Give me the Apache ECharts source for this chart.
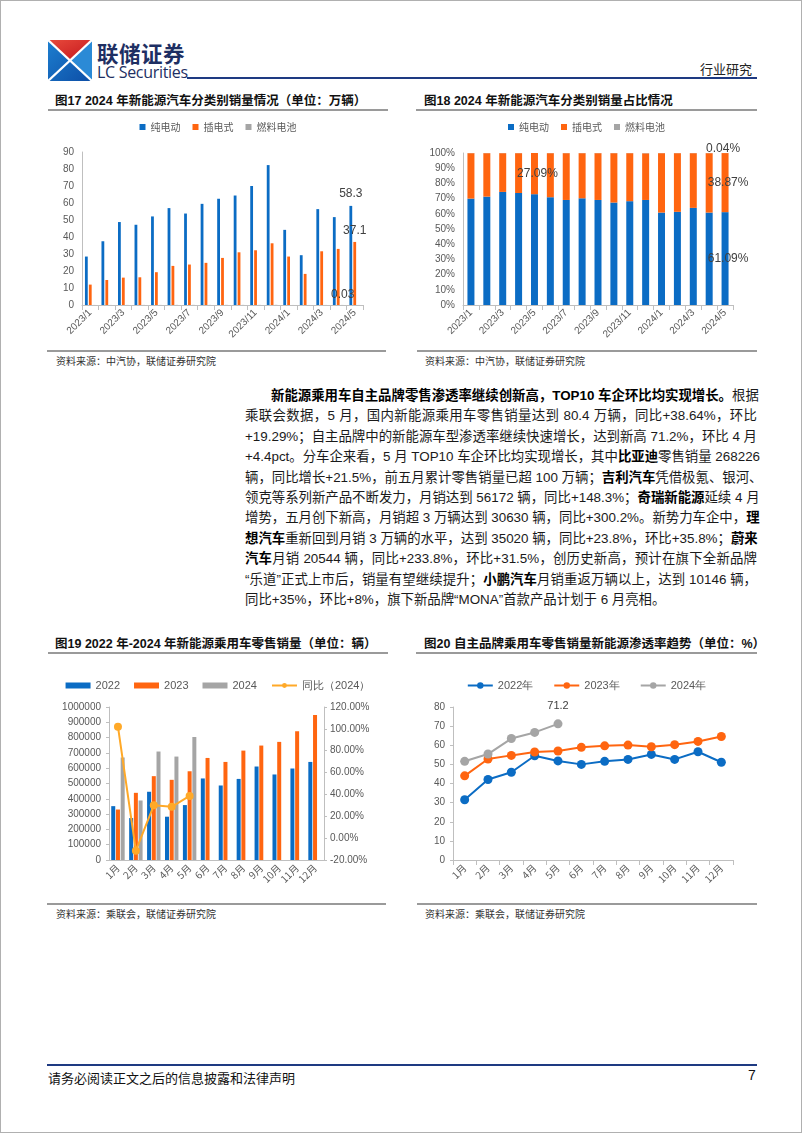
<!DOCTYPE html>
<html><head><meta charset="utf-8">
<script src="https://cdn.jsdelivr.net/npm/echarts@6/dist/echarts.min.js"></script>
<style>
html,body{margin:0;padding:0}
body{width:802px;height:1133px;position:relative;background:#fff;font-family:"Liberation Sans",Arial,"Noto Sans CJK SC",sans-serif;overflow:hidden;color:#222}
.abs{position:absolute}
.frame{position:absolute;left:0;top:0;width:800px;height:1131px;border:1px solid #b0b0b0}
.title{position:absolute;font-size:12.5px;font-weight:bold;color:#111;white-space:nowrap}
.rule{position:absolute;height:2px;background:#9a9a9a}
.src{position:absolute;font-size:10px;color:#333;white-space:nowrap}
.para{position:absolute;left:245px;width:512px;font-size:13.4px;color:#1a1a1a}
.para div{height:20.4px;line-height:20.4px;white-space:nowrap;text-align:justify;text-align-last:justify}
.para b{font-weight:bold;color:#000}
.chart{position:absolute}
</style></head>
<body>
<div class="frame"></div>
<svg class="abs" style="left:48px;top:40px" width="44" height="41" viewBox="0 0 44 41">
 <defs>
  <linearGradient id="gb" x1="0" y1="0" x2="1" y2="1"><stop offset="0" stop-color="#1d7fd0"/><stop offset="1" stop-color="#0d4ea6"/></linearGradient>
  <linearGradient id="gr" x1="0" y1="0" x2="1" y2="1"><stop offset="0" stop-color="#e84a3c"/><stop offset="1" stop-color="#c4161c"/></linearGradient>
 </defs>
 <rect x="0" y="0" width="44" height="41" fill="url(#gb)"/>
 <polygon points="0,0 44,0 22,20.5" fill="url(#gr)"/>
 <polygon points="44,0 44,41 22,20.5" fill="#2b8ad6"/>
 <line x1="0" y1="0" x2="44" y2="41" stroke="#fff" stroke-width="2.2"/>
 <line x1="44" y1="0" x2="0" y2="41" stroke="#fff" stroke-width="2.2"/>
</svg>
<div class="abs" style="left:97px;top:40px;font-size:21.5px;font-weight:bold;color:#1e2f63;font-family:'Noto Sans CJK SC';letter-spacing:0.5px;line-height:25px">联储证券</div>
<div class="abs" style="left:97px;top:63px;font-size:16px;color:#1e2f63;font-family:'Open Sans','Liberation Sans';line-height:18px;letter-spacing:-0.3px">LC Securities</div>
<div class="abs" style="left:187px;top:77px;width:570px;height:2px;background:#1e3a82"></div>
<div class="abs" style="left:700px;top:59px;font-size:13px;color:#222;font-family:'Noto Sans CJK SC'">行业研究</div>

<div class="title" style="left:55px;top:90px">图17 2024 年新能源汽车分类别销量情况（单位：万辆）</div>
<div class="rule" style="left:48px;top:109px;width:340px"></div>
<div class="title" style="left:424px;top:90px">图18 2024 年新能源汽车分类别销量占比情况</div>
<div class="rule" style="left:416px;top:109px;width:341px"></div>

<div id="c1" class="chart" style="left:48px;top:112px;width:340px;height:236px"></div>
<div id="c2" class="chart" style="left:416px;top:112px;width:341px;height:236px"></div>

<div class="rule" style="left:47px;top:350px;width:339px;height:1.5px"></div>
<div class="src" style="left:56px;top:353px">资料来源：中汽协，联储证券研究院</div>
<div class="rule" style="left:417px;top:350px;width:340px;height:1.5px"></div>
<div class="src" style="left:425px;top:353px">资料来源：中汽协，联储证券研究院</div>

<div class="para" style="top:386px">
<div style="padding-left:26px"><b>新能源乘用车自主品牌零售渗透率继续创新高，TOP10 车企环比均实现增长。</b>根据</div>
<div>乘联会数据，5 月，国内新能源乘用车零售销量达到 80.4 万辆，同比+38.64%，环比</div>
<div>+19.29%；自主品牌中的新能源车型渗透率继续快速增长，达到新高 71.2%，环比 4 月</div>
<div>+4.4pct。分车企来看，5 月 TOP10 车企环比均实现增长，其中<b>比亚迪</b>零售销量 268226</div>
<div>辆，同比增长+21.5%，前五月累计零售销量已超 100 万辆；<b>吉利汽车</b>凭借极氪、银河、</div>
<div>领克等系列新产品不断发力，月销达到 56172 辆，同比+148.3%；<b>奇瑞新能源</b>延续 4 月</div>
<div>增势，五月创下新高，月销超 3 万辆达到 30630 辆，同比+300.2%。新势力车企中，<b>理</b></div>
<div><b>想汽车</b>重新回到月销 3 万辆的水平，达到 35020 辆，同比+23.8%，环比+35.8%；<b>蔚来</b></div>
<div><b>汽车</b>月销 20544 辆，同比+233.8%，环比+31.5%，创历史新高，预计在旗下全新品牌</div>
<div>“乐道”正式上市后，销量有望继续提升；<b>小鹏汽车</b>月销重返万辆以上，达到 10146 辆，</div>
<div style="text-align:left;text-align-last:left">同比+35%，环比+8%，旗下新品牌“MONA”首款产品计划于 6 月亮相。</div>
</div>

<div class="title" style="left:55px;top:633px">图19 2022 年-2024 年新能源乘用车零售销量（单位：辆）</div>
<div class="rule" style="left:48px;top:652px;width:340px"></div>
<div class="title" style="left:424px;top:633px">图20 自主品牌乘用车零售销量新能源渗透率趋势（单位：%）</div>
<div class="rule" style="left:416px;top:652px;width:341px"></div>

<div id="c3" class="chart" style="left:48px;top:660px;width:340px;height:242px"></div>
<div id="c4" class="chart" style="left:416px;top:660px;width:341px;height:242px"></div>

<div class="rule" style="left:47px;top:903px;width:339px;height:1.5px"></div>
<div class="src" style="left:56px;top:906px">资料来源：乘联会，联储证券研究院</div>
<div class="rule" style="left:417px;top:903px;width:340px;height:1.5px"></div>
<div class="src" style="left:425px;top:906px">资料来源：乘联会，联储证券研究院</div>

<div class="abs" style="left:47px;top:1064px;width:710px;height:1.5px;background:#1e3a82"></div>
<div class="abs" style="left:48px;top:1068px;font-size:13px;color:#111;font-family:'Noto Sans CJK SC'">请务必阅读正文之后的信息披露和法律声明</div>
<div class="abs" style="left:748px;top:1067px;font-size:14px;color:#111">7</div>

<script>
// ---------- data ----------
var months17 = ['2023/1','2023/2','2023/3','2023/4','2023/5','2023/6','2023/7','2023/8','2023/9','2023/10','2023/11','2023/12','2024/1','2024/2','2024/3','2024/4','2024/5'];
var seriesNames = ['纯电动','插电式','燃料电池'];
var bevSales  = [28.5,37.5,48.8,47.2,52.1,57.0,53.8,59.5,62.5,64.4,70.0,82.3,44.2,29.3,56.4,51.7,58.3];
var phevSales = [12.0,14.7,16.1,16.3,19.3,23.0,23.8,24.8,27.7,31.0,32.2,36.3,28.5,18.3,31.6,33.0,37.1];
var fcSales   = [0.04,0.03,0.05,0.06,0.05,0.07,0.08,0.06,0.08,0.07,0.06,0.10,0.02,0.02,0.04,0.04,0.03];

var bevShare  = [70.0,71.3,74.4,73.7,72.9,70.9,69.1,70.2,69.1,67.4,68.3,69.1,60.8,61.3,63.9,60.8,61.09];
var phevShare = [29.9,28.6,25.5,26.2,27.09,29.0,30.8,29.7,30.8,32.5,31.6,30.7,39.1,38.6,36.0,39.1,38.87];
var fcShare   = [0.1,0.1,0.1,0.1,0.01,0.1,0.1,0.1,0.1,0.1,0.1,0.2,0.1,0.1,0.1,0.1,0.04];

var months12 = ['1月','2月','3月','4月','5月','6月','7月','8月','9月','10月','11月','12月'];
var retail2022 = [352000,274000,446000,283000,359000,533000,487000,530000,611000,559000,598000,641000];
var retail2023 = [330000,439000,548000,524000,580000,667000,641000,715000,748000,772000,841000,948000];
var retail2024 = [670000,389000,709000,676000,804000];
var yoy2024    = [102.0,-11.5,30.0,28.7,38.64];

var pen2022 = [31.5,42.1,45.9,54.5,51.8,50.0,51.6,52.6,55.2,52.6,56.6,51.1];
var pen2023 = [44.0,52.8,54.7,56.5,57.0,58.9,59.7,60.1,59.2,60.3,62.0,64.6];
var pen2024 = [51.6,55.4,63.5,66.7,71.2];

// ---------- styles ----------
var BLUE='#0b6cc4', ORANGE='#ff6510', GRAY='#a5a5a5', GOLD='#ffa928';
var AX='#bfbfbf', LBL='#595959';
var NUMFONT='Liberation Sans';
function axLine(){return {show:true,lineStyle:{color:AX,width:1}};}
function lbl(extra){var o={color:LBL,fontSize:10,fontFamily:NUMFONT};for(var k in extra)o[k]=extra[k];return o;}
var legendText={color:LBL,fontSize:10,fontFamily:'Noto Sans CJK SC'};

// ---------- chart 1 ----------
var c1=echarts.init(document.getElementById('c1'),null,{renderer:'canvas'});
c1.setOption({
 animation:false,
 legend:{top:5,left:'center',itemWidth:6,itemHeight:6,itemGap:12,icon:'rect',textStyle:legendText,data:seriesNames},
 grid:{left:34,right:25,top:40,bottom:43,containLabel:false},
 xAxis:{type:'category',data:months17,axisLine:axLine(),axisTick:{show:true,interval:0,lineStyle:{color:AX}},
   axisLabel:lbl({interval:1,rotate:45,margin:6})},
 yAxis:{type:'value',min:0,max:90,interval:10,axisLine:axLine(),axisTick:{show:false},splitLine:{show:false},axisLabel:lbl({margin:8})},
 series:[
  {name:seriesNames[0],type:'bar',data:bevSales,barWidth:2.8,barGap:'40%',barCategoryGap:'38%',itemStyle:{color:BLUE},
   label:{show:true,position:'top',distance:6,fontSize:12,color:'#404040',fontFamily:NUMFONT,
     formatter:function(p){return p.dataIndex===16?p.value:'';}}},
  {name:seriesNames[1],type:'bar',data:phevSales,barWidth:2.8,itemStyle:{color:ORANGE},
   label:{show:true,position:'top',distance:5,fontSize:12,color:'#404040',fontFamily:NUMFONT,
     formatter:function(p){return p.dataIndex===16?p.value:'';}}},
  {name:seriesNames[2],type:'bar',data:fcSales,barWidth:2.8,itemStyle:{color:GRAY},
   label:{show:true,position:'top',distance:4,offset:[-16,0],fontSize:12,color:'#404040',fontFamily:NUMFONT,
     formatter:function(p){return p.dataIndex===16?p.value.toFixed(2):'';}}}
 ]
});

// ---------- chart 2 ----------
var c2=echarts.init(document.getElementById('c2'),null,{renderer:'canvas'});
c2.setOption({
 animation:false,
 legend:{top:5,left:'center',itemWidth:6,itemHeight:6,itemGap:12,icon:'rect',textStyle:legendText,data:seriesNames},
 grid:{left:47,right:24,top:41,bottom:43,containLabel:false},
 xAxis:{type:'category',data:months17,axisLine:axLine(),axisTick:{show:true,interval:0,lineStyle:{color:AX}},
   axisLabel:lbl({interval:1,rotate:45,margin:6})},
 yAxis:{type:'value',min:0,max:100,interval:10,axisLine:axLine(),axisTick:{show:false},splitLine:{show:false},
   axisLabel:lbl({margin:8,formatter:'{value}%'})},
 series:[
  {name:seriesNames[0],type:'bar',stack:'s',data:bevShare,barWidth:7,itemStyle:{color:BLUE},
   label:{show:true,position:'inside',fontSize:12,color:'#404040',fontFamily:NUMFONT,offset:[3,0],
     formatter:function(p){return p.dataIndex===16?p.value.toFixed(2)+'%':'';}}},
  {name:seriesNames[1],type:'bar',stack:'s',data:phevShare,barWidth:7,itemStyle:{color:ORANGE},
   label:{show:true,position:'inside',fontSize:12,color:'#404040',fontFamily:NUMFONT,
     offset:[3,0],
     formatter:function(p){return (p.dataIndex===16||p.dataIndex===4)?p.value.toFixed(2)+'%':'';}}},
  {name:seriesNames[2],type:'bar',stack:'s',data:fcShare,barWidth:7,itemStyle:{color:GRAY},
   label:{show:true,position:'top',distance:1,fontSize:12,color:'#404040',fontFamily:NUMFONT,offset:[-2,3],
     formatter:function(p){return p.dataIndex===16?p.value.toFixed(2)+'%':'';}}}
 ]
});

// ---------- chart 3 ----------
var c3=echarts.init(document.getElementById('c3'),null,{renderer:'canvas'});
c3.setOption({
 animation:false,
 legend:{top:15,left:'center',itemWidth:25,itemHeight:6,itemGap:14,textStyle:{color:LBL,fontSize:11,fontFamily:NUMFONT},
   data:[{name:'2022',icon:'rect'},{name:'2023',icon:'rect'},{name:'2024',icon:'rect'},{name:'同比（2024）'}]},
 grid:{left:61,right:64,top:47,bottom:42,containLabel:false},
 xAxis:{type:'category',data:months12,axisLine:axLine(),axisTick:{show:false},
   axisLabel:lbl({interval:0,rotate:45,margin:6,fontFamily:'Noto Sans CJK SC'})},
 yAxis:[
  {type:'value',min:0,max:1000000,interval:100000,axisLine:axLine(),axisTick:{show:true,length:3,lineStyle:{color:AX}},splitLine:{show:false},
   axisLabel:lbl({margin:8,formatter:function(v){return String(v);}})},
  {type:'value',min:-20,max:120,interval:20,position:'right',axisLine:axLine(),axisTick:{show:true,length:3,lineStyle:{color:AX}},splitLine:{show:false},
   axisLabel:lbl({margin:6,formatter:function(v){return v.toFixed(2)+'%';}})}
 ],
 series:[
  {name:'2022',type:'bar',data:retail2022,barWidth:4,barGap:'18%',barCategoryGap:'30%',itemStyle:{color:BLUE}},
  {name:'2023',type:'bar',data:retail2023,barWidth:4,itemStyle:{color:ORANGE}},
  {name:'2024',type:'bar',data:retail2024,barWidth:4,itemStyle:{color:GRAY}},
  {name:'同比（2024）',type:'line',yAxisIndex:1,data:yoy2024,symbol:'circle',symbolSize:8,
   lineStyle:{color:GOLD,width:2},itemStyle:{color:GOLD}}
 ]
});

// ---------- chart 4 ----------
var c4=echarts.init(document.getElementById('c4'),null,{renderer:'canvas'});
c4.setOption({
 animation:false,
 legend:{top:15,left:'center',itemWidth:25,itemHeight:8,itemGap:20,textStyle:{color:LBL,fontSize:11,fontFamily:NUMFONT},
   data:['2022年','2023年','2024年']},
 grid:{left:37,right:24,top:47,bottom:42,containLabel:false},
 xAxis:{type:'category',data:months12,axisLine:axLine(),axisTick:{show:true,interval:0,lineStyle:{color:AX}},
   axisLabel:lbl({interval:0,rotate:45,margin:6,fontFamily:'Noto Sans CJK SC'})},
 yAxis:{type:'value',min:0,max:80,interval:10,axisLine:axLine(),axisTick:{show:true,length:3,lineStyle:{color:AX}},splitLine:{show:false},axisLabel:lbl({margin:8})},
 series:[
  {name:'2022年',type:'line',data:pen2022,symbol:'circle',symbolSize:9,lineStyle:{color:BLUE,width:2},itemStyle:{color:BLUE}},
  {name:'2023年',type:'line',data:pen2023,symbol:'circle',symbolSize:9,lineStyle:{color:ORANGE,width:2},itemStyle:{color:ORANGE}},
  {name:'2024年',type:'line',data:pen2024,symbol:'circle',symbolSize:9,lineStyle:{color:GRAY,width:2},itemStyle:{color:GRAY},
   label:{show:true,position:'top',distance:8,fontSize:11,color:'#404040',fontFamily:NUMFONT,
     formatter:function(p){return p.dataIndex===4?p.value:'';}}}
 ]
});
</script>
</body></html>
